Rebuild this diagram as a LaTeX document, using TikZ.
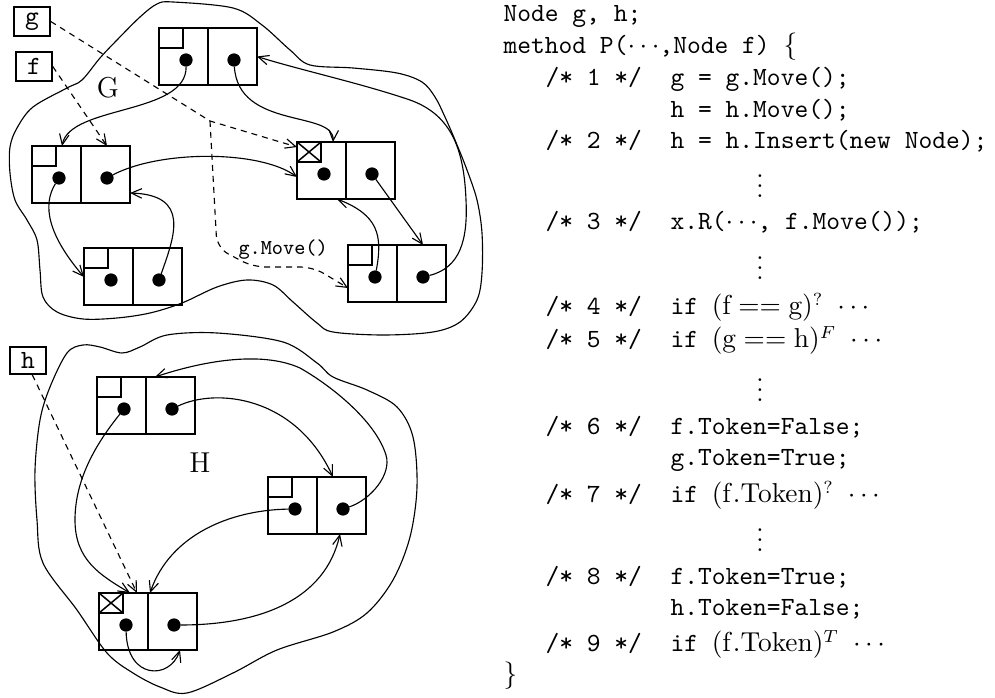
\documentclass[tikz,border=0pt]{standalone}
\usetikzlibrary{calc,arrows.meta}
\tikzset{
  cellbox/.style={draw, anchor=north west, minimum width=39.2pt, minimum height=22.8pt, inner sep=0pt, outer sep=0pt, line width=0.6pt},
  boxline/.style={line width=0.6pt},
  dotnode/.style={circle, fill=black, inner sep=0pt, outer sep=0pt, minimum size=5.3pt},
  conn/.style={line width=0.45pt, -{Straight Barb[length=4.2pt,width=3.8pt]}},
  dconn/.style={conn, dash pattern=on 2.4pt off 2pt},
  blob/.style={line width=0.45pt},
  code/.style={anchor=base west, inner sep=0pt, font=\fontsize{10.5}{12}\ttfamily},
  vdotnode/.style={anchor=base, inner sep=0pt, font=\fontsize{10.5}{12}\selectfont},
  varbox/.style={draw, line width=0.6pt, minimum width=14.4pt, minimum height=11.6pt, inner sep=0pt, font=\fontsize{10.5}{12}\ttfamily},
  biglabel/.style={inner sep=0pt, font=\fontsize{11.5}{13}\selectfont}
}
\newcommand{\myvdots}{\vbox{\baselineskip4pt \lineskiplimit0pt \hbox{.}\hbox{.}\hbox{.}}}
\newcommand{\lnode}[4]{%
  \node[cellbox] (#1) at (#2,#3) {};
  \draw[boxline] (#1.north) -- (#1.south);
  \draw[boxline] ($(#1.north west)+(24,0)$) |- ($(#1.north west)+(0,20)$);
  \ifnum#4=1
    \draw[boxline] (#1.north west) -- ($(#1.north west)+(24,20)$);
    \draw[boxline] ($(#1.north west)+(24,0)$) -- ($(#1.north west)+(0,20)$);
  \fi
  \node[dotnode] (#1-l) at ($(#1.north west)+(27,32)$) {};
  \node[dotnode] (#1-r) at ($(#1.north west)+(75,32)$) {};
}
\begin{document}
\begin{tikzpicture}[x=0.4pt,y=-0.4pt]
\useasboundingbox (0,0) rectangle (995,698);

% ---------- blob G ----------
\draw[blob] plot[smooth cycle, tension=0.55] coordinates {
 (173,2) (233,8) (262,25) (290,50) (310,65) (353,68) (397,73) (422,82) (435,97)
 (445,117) (455,140) (467,170) (477,200) (482,233) (482,273) (477,300) (460,322)
 (433,332) (383,335) (333,332) (317,323) (293,302) (273,285) (247,280) (217,287)
 (182,303) (150,313) (117,318) (83,319) (57,312) (43,297) (40,270) (37,240)
 (27,220) (15,200) (10,173) (10,147) (17,128) (33,107) (67,88) (82,80) (100,58)
 (117,40) (140,17) (157,4)};

% ---------- blob H ----------
\draw[blob] plot[smooth cycle, tension=0.55] coordinates {
 (83,345) (100,347) (122,353) (140,347) (167,335) (217,333) (283,342) (317,363)
 (333,377) (367,390) (397,407) (413,437) (417,487) (410,537) (393,580) (367,613)
 (333,632) (277,650) (233,673) (187,693) (160,687) (133,673) (107,653) (77,610)
 (43,563) (37,520) (35,470) (40,420) (50,387) (67,353)};

% ---------- list nodes ----------
\lnode{A}{159}{28}{0}
\lnode{B}{32}{146}{0}
\lnode{C}{84}{248}{0}
\lnode{D}{297}{142}{1}
\lnode{E}{348}{245}{0}
\lnode{HA}{97}{377}{0}
\lnode{HB}{268}{477}{0}
\lnode{HC}{99}{593}{1}

% ---------- variables ----------
\node[varbox] (g) at (32,21.5) {g};
\node[varbox] (f) at (34,66.5) {f};
\node[varbox, minimum height=10.8pt] (h) at (28,360.5) {h};

\node[biglabel] (GL) at (108,88) {G};
\node[biglabel] (HL) at (200,463) {H};
\node[code, font=\fontsize{8.5}{10}\ttfamily] (gm) at (238,255) {g.Move()};

% ---------- G connectors ----------
\draw[conn] (A-l) .. controls (187,115) and (70,105) .. ($(B.north west)+(30,0)$);
\draw[conn] (A-r) .. controls (238,130) and (335,110) .. ($(D.north west)+(36,0)$);
\draw[conn] (E-r) .. controls (460,268) and (468,240) .. (466,200)
  .. controls (464,150) and (452,115) .. (410,100)
  .. controls (360,83) and (300,70) .. (A.east);
\draw[conn] (B-r) .. controls (160,150) and (260,150) .. ($(D.north west)+(0,35)$);
\draw[conn] (B-l) .. controls (42,205) and (48,235) .. ($(C.north west)+(0,29)$);
\draw[conn] (C-r) .. controls (175,235) and (190,195) .. ($(B.south east)+(0,-10)$);
\draw[conn] (D-r) -- ($(E.north west)+(75,0)$);
\draw[conn] (E-l) .. controls (383,235) and (378,215) .. ($(D.south west)+(40,0)$);

\coordinate (gj) at (210,121);
\draw[dconn] (g.east) -- (gj) -- ($(D.north west)+(0,5)$);
\draw[dconn, rounded corners=5pt] (gj) -- (217,248) -- (253,267) -- (313,267) -- ($(E.north west)+(0,43)$);
\draw[dconn] (f.east) -- ($(B.north west)+(75,0)$);

% ---------- H connectors ----------
\draw[conn] (HB-r) .. controls (370,500) and (392,475) .. (386,455)
  .. controls (375,420) and (330,385) .. (300,368)
  .. controls (260,350) and (200,362) .. ($(HA.north west)+(58,0)$);
\draw[conn] (HA-r) .. controls (215,388) and (295,395) .. ($(HB.north west)+(65,0)$);
\draw[conn] (HA-l) .. controls (95,445) and (75,480) .. (75,520)
  .. controls (75,560) and (100,575) .. ($(HC.north west)+(31,0)$);
\draw[dconn] ($(h.south west)+(23,0)$) -- ($(HC.north west)+(38,0)$);
\draw[conn] (HB-l) .. controls (230,510) and (170,535) .. ($(HC.north west)+(51,0)$);
\draw[conn] (HC-r) .. controls (260,625) and (325,600) .. ($(HB.south west)+(72,0)$);
\draw[conn] (HC-l) .. controls (127,680) and (170,680) .. ($(HC.south west)+(81,0)$);

% ---------- code ----------
\node[code] (c1) at (503,22) {Node g, h;};
\node[code] (c2) at (503,54) {method P($\cdots$,Node f) $\{$};
\node[code] (n1) at (545,86) {/* 1 */};
\node[code] (s1) at (670,86) {g = g.Move();};
\node[code] (s1b) at (670,118) {h = h.Move();};
\node[code] (n2) at (545,149) {/* 2 */};
\node[code] (s2) at (670,149) {h = h.Insert(new Node);};
\node[vdotnode] (v1) at (760,198) {\myvdots};
\node[code] (n3) at (545,230) {/* 3 */};
\node[code] (s3) at (670,230) {x.R($\cdots$, f.Move());};
\node[vdotnode] (v2) at (760,280) {\myvdots};
\node[code] (n4) at (545,315) {/* 4 */};
\node[code] (s4) at (670,315) {if $(\mathrm{f}==\mathrm{g})^{?}$\ $\cdots$};
\node[code] (n5) at (545,348) {/* 5 */};
\node[code] (s5) at (670,348) {if $(\mathrm{g}==\mathrm{h})^{F}$\ $\cdots$};
\node[vdotnode] (v3) at (760,402) {\myvdots};
\node[code] (n6) at (545,435) {/* 6 */};
\node[code] (s6) at (670,435) {f.Token=False;};
\node[code] (s6b) at (670,466) {g.Token=True;};
\node[code] (n7) at (545,503) {/* 7 */};
\node[code] (s7) at (670,503) {if $(\mathrm{f.Token})^{?}$\ $\cdots$};
\node[vdotnode] (v4) at (760,552) {\myvdots};
\node[code] (n8) at (545,585) {/* 8 */};
\node[code] (s8) at (670,585) {f.Token=True;};
\node[code] (s8b) at (670,616) {h.Token=False;};
\node[code] (n9) at (545,652) {/* 9 */};
\node[code] (s9) at (670,652) {if $(\mathrm{f.Token})^{T}$\ $\cdots$};
\node[code] (cend) at (503,683) {$\}$};
\end{tikzpicture}
\end{document}
